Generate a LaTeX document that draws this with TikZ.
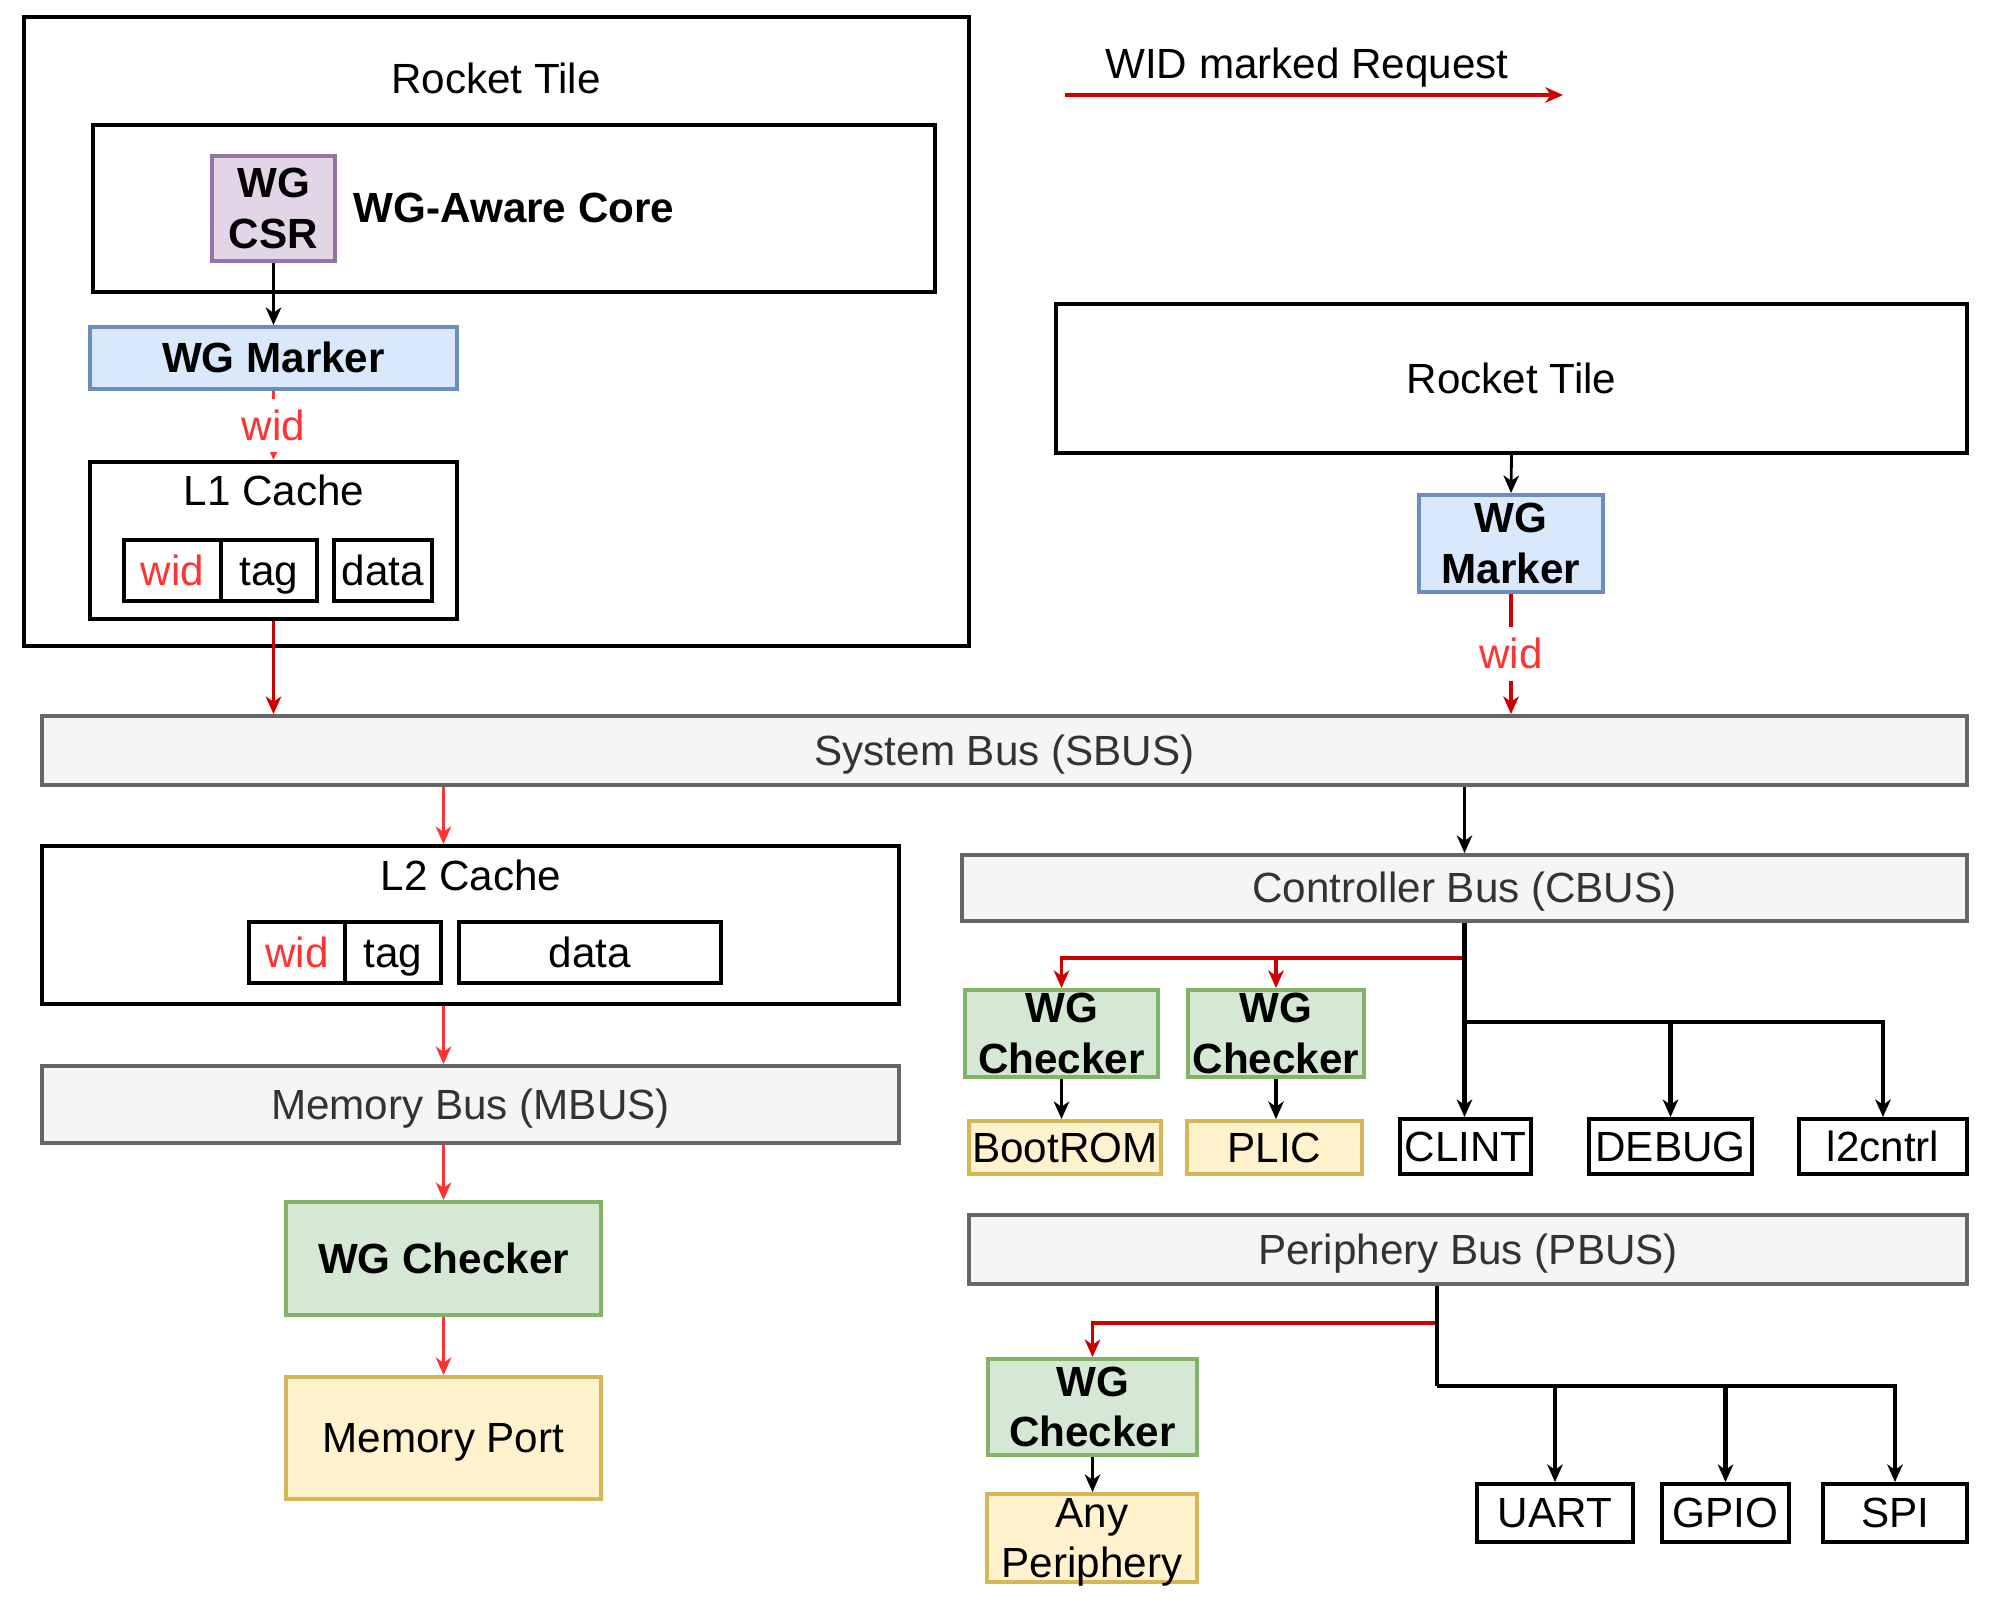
\documentclass[tikz,border=0pt]{standalone}
\usepackage{fontspec}
\setmainfont{Liberation Sans}
\usetikzlibrary{arrows.meta,calc}
\definecolor{busfill}{HTML}{F5F5F5}
\definecolor{busdraw}{HTML}{666666}
\definecolor{bustext}{HTML}{333333}
\definecolor{grnfill}{HTML}{D5E8D4}
\definecolor{grndraw}{HTML}{82B366}
\definecolor{ylwfill}{HTML}{FFF2CC}
\definecolor{ylwdraw}{HTML}{D6B656}
\definecolor{blufill}{HTML}{DAE8FC}
\definecolor{bludraw}{HTML}{6C8EBF}
\definecolor{purfill}{HTML}{E1D5E7}
\definecolor{purdraw}{HTML}{9673A6}
\definecolor{brightred}{HTML}{FF3333}
\definecolor{darkred}{HTML}{CC0000}
\newcommand\fsz{\fontsize{12}{14.4}\selectfont}
\newcommand\st{\rule[-0.21em]{0pt}{1.11em}}
\tikzset{
  every node/.style={font=\fsz},
  rect/.style n args={4}{rectangle, inner sep=0pt,
     minimum width={(#3-#1)*0.01cm}, minimum height={(#4-#2)*0.01cm},
     at={({(#1+#3)/2},{(#2+#4)/2})}},
  blk/.style={draw=black, line width=1.1pt},
  bus/.style={draw=busdraw, fill=busfill, text=bustext, line width=1.1pt},
  grn/.style={draw=grndraw, fill=grnfill, line width=1.1pt, align=center, font=\fsz\bfseries},
  ylw/.style={draw=ylwdraw, fill=ylwfill, line width=1.1pt, align=center},
  blu/.style={draw=bludraw, fill=blufill, line width=1.1pt, align=center, font=\fsz\bfseries},
  pur/.style={draw=purdraw, fill=purfill, line width=1.1pt, align=center, font=\fsz\bfseries},
  mlb/.style={label={[align=center, font=\fsz\bfseries, inner sep=0pt]center:#1}},
  mlr/.style={label={[align=center, font=\fsz, inner sep=0pt]center:#1}},
  tip/.style={-{Stealth[length=5pt,width=4.4pt,inset=1.5pt]}},
  blkarrow/.style={tip, draw=black, line width=0.8pt},
  redarrow/.style={tip, draw=brightred, line width=0.8pt},
  dredarrow/.style={tip, draw=darkred, line width=0.8pt},
  treeline/.style={draw=black, line width=1.2pt},
  treearrow/.style={tip, draw=black, line width=1.2pt},
  redtree/.style={tip, draw=darkred, line width=1.1pt},
  widlbl/.style={fill=white, text=brightred, inner sep=1pt},
}
\begin{document}
\begin{tikzpicture}[x=0.01cm,y=-0.01cm]
\useasboundingbox (0,0) rectangle (2005,1602);

% ---------- left Rocket Tile ----------
\node[blk, rect={24}{17}{969}{646}] (tile1) {};
\node[inner sep=0pt] (tile1lbl) at (496,79) {\st Rocket Tile};
\node[blk, rect={93}{125}{935}{292}] (core) {};
\node[font=\fsz\bfseries, inner sep=0pt] (corelbl) at (514,208) {\st WG-Aware Core};
\node[pur, rect={212}{156}{335}{261}, mlb={{\st WG\\\st CSR}}] (csr) {};
\node[blu, rect={90}{327}{457}{389}] (mk1) {\st WG Marker};
\node[blk, rect={90}{462}{457}{619}] (l1) {};
\node[inner sep=0pt] (l1lbl) at (274,491) {\st L1 Cache};
\node[blk, rect={124}{540}{221}{601}, text=brightred] (l1wid) {\st wid};
\node[blk, rect={221}{540}{317}{601}] (l1tag) {\st tag};
\node[blk, rect={334}{540}{432}{601}] (l1data) {\st data};

% ---------- legend ----------
\coordinate (lgA) at (1065,95);
\coordinate (lgB) at (1563,95);
\draw[dredarrow, line width=1pt] (lgA) -- (lgB);
\node[inner sep=0pt] (lgtxt) at (1307,64) {\st WID marked Request};

% ---------- right Rocket Tile ----------
\node[blk, rect={1056}{304}{1967}{453}] (tile2) {\st Rocket Tile};
\node[blu, rect={1419}{495}{1603}{592}, mlb={{\st WG\\\st Marker}}] (mk2) {};

% ---------- buses and memory path ----------
\node[bus, rect={42}{716}{1967}{785}] (sbus) {\st System Bus (SBUS)};
\node[blk, rect={42}{846}{899}{1004}] (l2) {};
\node[inner sep=0pt] (l2lbl) at (471,876) {\st L2 Cache};
\node[blk, rect={249}{922}{345}{983}, text=brightred] (l2wid) {\st wid};
\node[blk, rect={345}{922}{441}{983}] (l2tag) {\st tag};
\node[blk, rect={459}{922}{721}{983}] (l2data) {\st data};
\node[bus, rect={42}{1066}{899}{1143}] (mbus) {\st Memory Bus (MBUS)};
\node[grn, rect={286}{1202}{601}{1315}] (mchk) {\st WG Checker};
\node[ylw, rect={286}{1377}{601}{1499}] (mport) {\st Memory Port};

% ---------- controller bus ----------
\node[bus, rect={962}{855}{1967}{921}] (cbus) {\st Controller Bus (CBUS)};
\node[grn, rect={965}{990}{1158}{1077}, mlb={{\st WG\\\st Checker}}] (chk1) {};
\node[grn, rect={1188}{990}{1364}{1077}, mlb={{\st WG\\\st Checker}}] (chk2) {};
\node[ylw, rect={969}{1121}{1161}{1174}] (boot) {\st BootROM};
\node[ylw, rect={1187}{1121}{1362}{1174}] (plic) {\st PLIC};
\node[blk, rect={1400}{1119}{1531}{1174}] (clint) {\st CLINT};
\node[blk, rect={1589}{1119}{1752}{1174}] (debug) {\st DEBUG};
\node[blk, rect={1799}{1119}{1967}{1174}] (l2c) {\st l2cntrl};

% ---------- periphery bus ----------
\node[bus, rect={969}{1215}{1967}{1284}] (pbus) {\st Periphery Bus (PBUS)};
\node[grn, rect={988}{1359}{1197}{1455}, mlb={{\st WG\\\st Checker}}] (chk3) {};
\node[ylw, rect={987}{1494}{1197}{1582}, mlr={{\st Any\\\st Periphery}}] (anyp) {};
\node[blk, rect={1477}{1484}{1633}{1542}] (uart) {\st UART};
\node[blk, rect={1662}{1484}{1789}{1542}] (gpio) {\st GPIO};
\node[blk, rect={1823}{1484}{1967}{1542}] (spi) {\st SPI};

% ---------- connectors ----------
\draw[blkarrow, line width=1.1pt] (csr.south) -- (mk1.north -| csr);
\draw[redarrow] (mk1.south) -- node[widlbl] (wid1) {\st wid} (l1.north);
\draw[dredarrow, line width=1pt] (l1.south) -- (sbus.north -| l1);
\draw[redarrow] (sbus.south -| mchk) -- (l2.north -| mchk);
\draw[redarrow] (l2.south -| mchk) -- (mbus.north -| mchk);
\draw[redarrow] (mbus.south -| mchk) -- (mchk.north);
\draw[redarrow] (mchk.south) -- (mport.north);

\draw[blkarrow] (tile2.south) -- (mk2.north);
\draw[dredarrow, line width=1pt] (mk2.south) -- node[widlbl] (wid2) {\st wid} (sbus.north -| mk2);
\draw[blkarrow] (sbus.south -| cbus) -- (cbus.north);

\coordinate (cbr) at ($(cbus.south)+(0,35)$);
\coordinate (cbj) at ($(cbus.south)+(0,99)$);
\draw[redtree] (cbr) -| (chk1.north);
\draw[redtree] (cbr) -| (chk2.north);
\draw[treearrow] (cbus.south) -- (clint.north -| cbus);
\draw[treearrow] (cbj) -| (debug.north);
\draw[treearrow] (cbj) -| (l2c.north);
\draw[blkarrow, line width=1.1pt] (chk1.south) -- (boot.north -| chk1);
\draw[blkarrow, line width=1.1pt] (chk2.south) -- (plic.north -| chk2);

\coordinate (pb) at ($(pbus.south)+(-31,0)$);
\coordinate (pbr) at ($(pb)+(0,37)$);
\coordinate (pbj) at ($(pb)+(0,100)$);
\draw[redtree] (pbr) -| (chk3.north);
\draw[treeline] (pb) -- (pbj);
\draw[treearrow] (pbj) -| (spi.north);
\draw[treearrow] (pbj -| uart) -- (uart.north);
\draw[treearrow] (pbj -| gpio) -- (gpio.north);
\draw[blkarrow, line width=1.1pt] (chk3.south) -- (anyp.north -| chk3);
\end{tikzpicture}
\end{document}
